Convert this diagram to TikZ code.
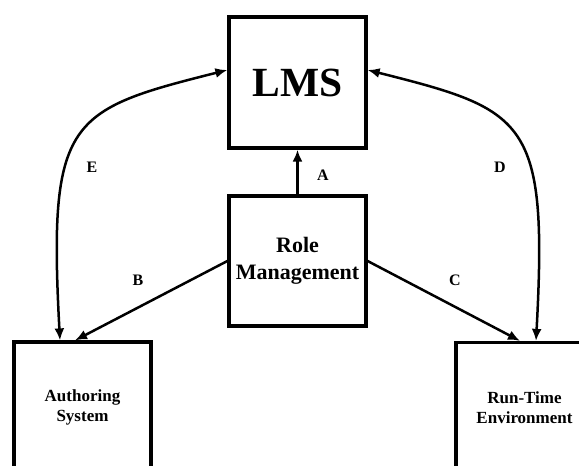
\documentclass[tikz,border=0pt]{standalone}
\usepackage{fontspec}
\setmainfont{Liberation Serif}
\usetikzlibrary{arrows.meta}

\begin{document}
\begin{tikzpicture}[x=1pt,y=1pt,>={Latex[length=12pt,width=10pt]},
  box/.style={draw,line width=3.2pt,minimum width=137pt,minimum height=130pt,align=center,inner sep=0pt},
  link/.style={line width=2.5pt},
  lbl/.style={font=\bfseries\fontsize{16}{18}\selectfont}]
  \useasboundingbox (0,0) rectangle (579,466);
  \clip (0,0) rectangle (579,466);

  \node[box,minimum height=131pt,font=\bfseries\fontsize{41.5}{45}\selectfont] (lms) at (297.5,383.5) {LMS};
  \node[box,font=\bfseries\fontsize{22}{27}\selectfont] (role) at (297.5,205) {Role\\Management};
  \node[box,font=\bfseries\fontsize{17}{20}\selectfont] (auth) at (82.5,59) {Authoring\\System};
  \node[box,font=\bfseries\fontsize{17}{20}\selectfont] (rte) at (524.5,58.5) {Run-Time\\Environment};

  \draw [->,link] (role.north) -- (lms.south);
  \node[lbl] (a) at (323,291) {A};

  \draw [->,link] (role.west) -- ([xshift=-7.5pt]auth.north);
  \node[lbl] (b) at (138,186) {B};

  \draw [->,link] (role.east) -- ([xshift=-4.5pt]rte.north);
  \node[lbl] (c) at (455,186) {C};

  \draw [<->,link] ([xshift=11.5pt]rte.north) .. controls +(12,222) and +(159,-40) .. ([yshift=12.5pt]lms.east);
  \node[lbl] (d) at (500,299) {D};

  \draw [<->,link] ([xshift=-22.5pt]auth.north) .. controls +(-12,222) and +(-159,-40) .. ([yshift=12.5pt]lms.west);
  \node[lbl] (e) at (92,299) {E};
\end{tikzpicture}
\end{document}
